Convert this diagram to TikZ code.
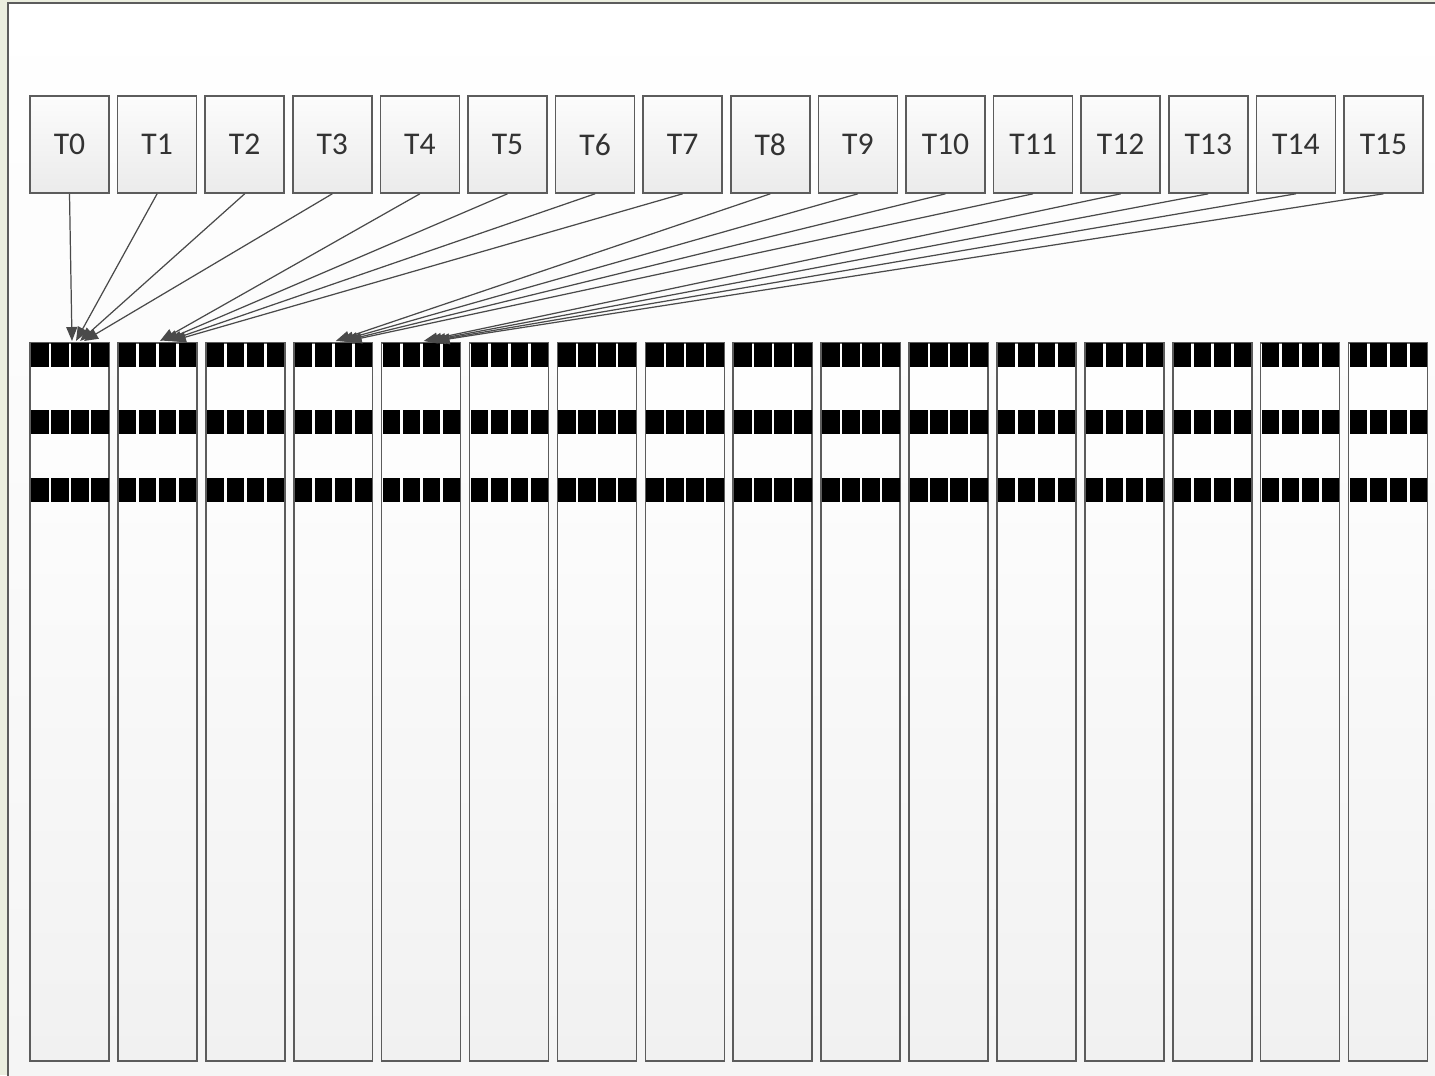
\documentclass[tikz,border=0pt]{standalone}
\usepackage{fontspec}
\setmainfont{Carlito}
\usetikzlibrary{arrows.meta,positioning}
\definecolor{framegreen}{HTML}{EBEEDF}
\definecolor{edgegray}{HTML}{5C5C5C}
\definecolor{linegray}{HTML}{4A4A4A}
\definecolor{boxtop}{HTML}{FCFCFC}
\definecolor{boxbottom}{HTML}{EBEBEB}
\definecolor{labelgray}{HTML}{333333}

\tikzset{
  threadbox/.style={draw=edgegray, line width=0.9pt, top color=boxtop, bottom color=boxbottom,
    minimum width=1.58cm, minimum height=1.94cm, inner sep=0pt,
    font=\fontsize{18}{20}\selectfont, text=labelgray},
  bankcol/.style={draw=edgegray, line width=0.9pt, top color=white, bottom color=boxbottom!70!white,
    minimum width=1.58cm, minimum height=14.36cm, inner sep=0pt},
  access/.style={draw=linegray, line width=0.7pt, -{Triangle[length=0.28cm,width=0.22cm]}},
}

\begin{document}
\begin{tikzpicture}[x=0.02cm,y=-0.02cm]
  \useasboundingbox (0,0) rectangle (1435,1075);
  % page frame
  \fill[framegreen] (0,0) rectangle (1435,1075);
  \draw[edgegray, line width=0.9pt, top color=white, bottom color=white!96!black] (8,3) rectangle (1450,1090);

  % memory columns with the three banded rows
  \foreach \c in {0,...,15}{
    \node[bankcol] (b\c) at ({69.5+87.9*\c},702) {};
    \foreach \top in {343,410,478}{
      \foreach \j in {0,...,3}{
        \fill[black] ({30+87.9*\c+1+20*\j},\top) rectangle +(17.5,24);
      }
    }
  }

  % threads
  \foreach \i in {0,...,15}{
    \node[threadbox] (t\i) at ({69.5+87.6*\i},144.5) {T\i};
  }

  % each thread hits a word in bank 0, 1, 3 or 4
  \foreach \i/\c/\k in {0/0/0,1/0/1,2/0/2,3/0/3,4/1/0,5/1/1,6/1/2,7/1/3,
                        8/3/0,9/3/1,10/3/2,11/3/3,12/4/0,13/4/1,14/4/2,15/4/3}{
    \coordinate (a\i) at ({30+87.9*\c+42+4*\k},341);
    \draw[access] (t\i.south) -- (a\i);
  }
\end{tikzpicture}
\end{document}
